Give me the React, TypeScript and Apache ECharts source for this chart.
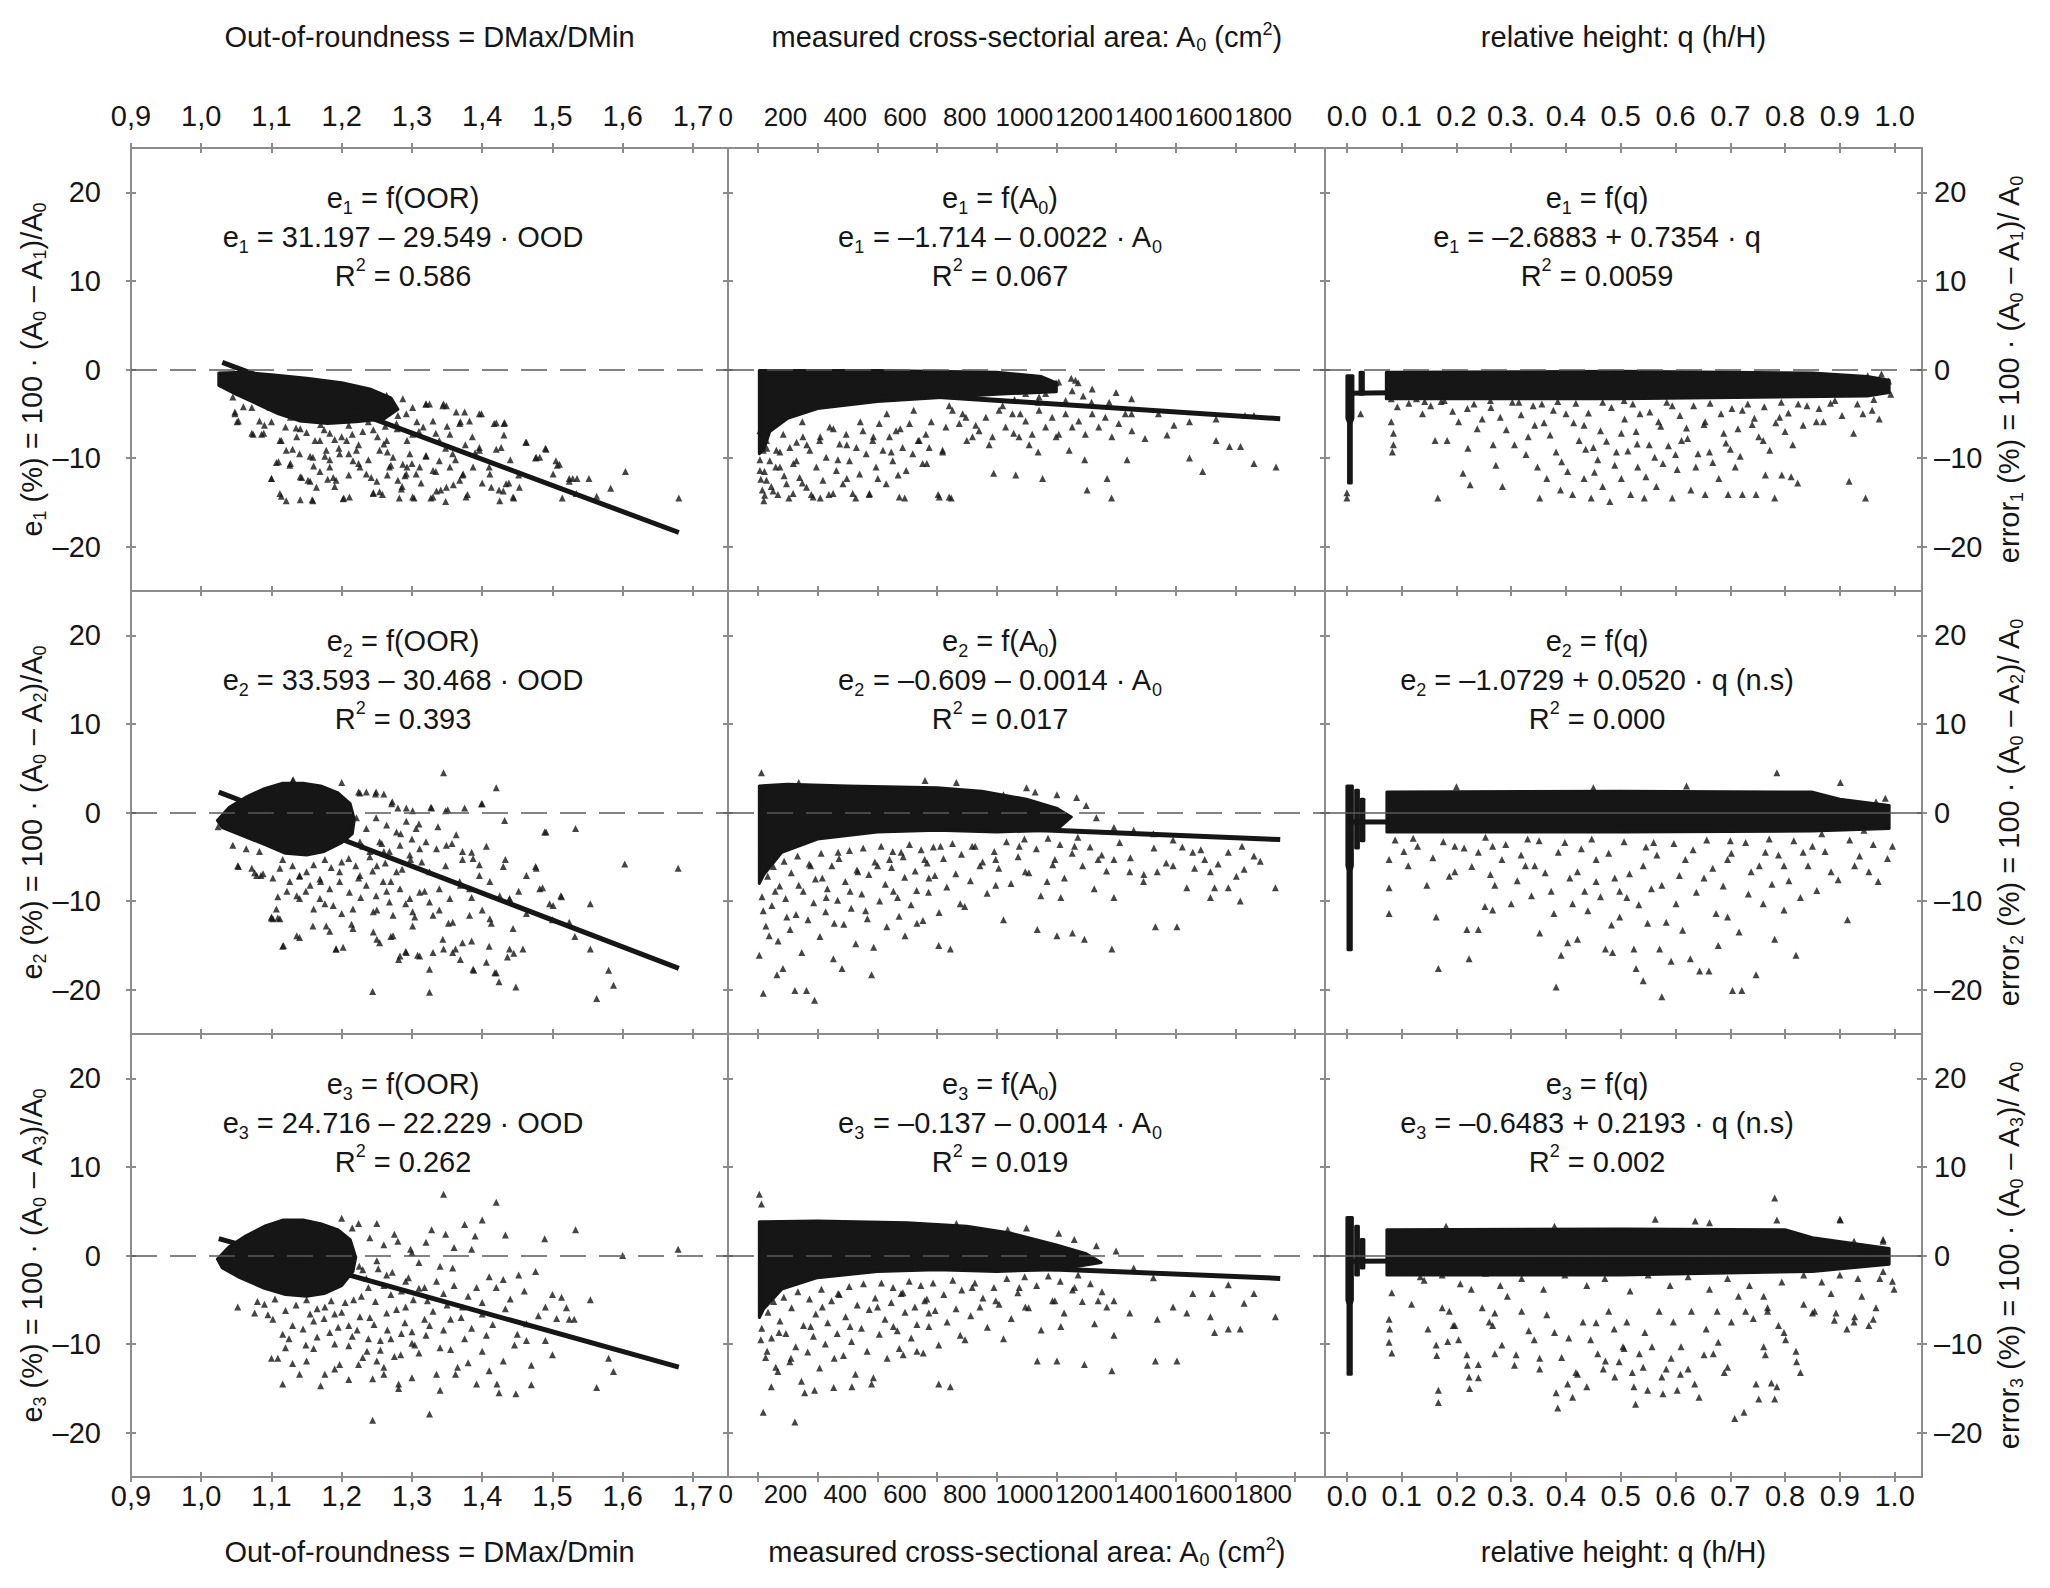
import React from "react";
import * as echarts from "echarts";

const FONT = "'Liberation Sans', Arial, Helvetica, sans-serif";
const INK = "#161616";
const AXIS = "#8c8c8c";

// ticks
const oorTicks = [0.9, 1.0, 1.1, 1.2, 1.3, 1.4, 1.5, 1.6, 1.7];
const areaTicks = [0, 200, 400, 600, 800, 1000, 1200, 1400, 1600, 1800];
const heightTicks = [0, 0.1, 0.2, 0.3, 0.4, 0.5, 0.6, 0.7, 0.8, 0.9, 1.0];
const errTicks = [-20, -10, 0, 10, 20];
const xRanges = [[0.9, 1.75], [-100, 1900], [-0.04, 1.05]];
const errRange = [-25, 25];

// titles and names ({s|} subscript, {p|} superscript)
const topTitles = [
  "Out-of-roundness = DMax/DMin",
  "measured cross-sectorial area: A{s|0} (cm{p|2})",
  "relative height: q (h/H)",
];
const bottomTitles = [
  "Out-of-roundness = DMax/Dmin",
  "measured cross-sectional area: A{s|0} (cm{p|2})",
  "relative height: q (h/H)",
];
const leftNames = [
  "e{s|1} (%) = 100 · (A{s|0} – A{s|1})/A{s|0}",
  "e{s|2} (%) = 100 · (A{s|0} – A{s|2})/A{s|0}",
  "e{s|3} (%) = 100 · (A{s|0} – A{s|3})/A{s|0}",
];
const rightNames = [
  "error{s|1} (%) = 100 · (A{s|0} – A{s|1})/ A{s|0}",
  "error{s|2} (%) = 100 · (A{s|0} – A{s|2})/ A{s|0}",
  "error{s|3} (%) = 100 · (A{s|0} – A{s|3})/ A{s|0}",
];
const equations = [
  "e{s|1} = f(OOR)\ne{s|1} = 31.197 – 29.549 · OOD\nR{p|2} = 0.586",
  "e{s|1} = f(A{s|0})\ne{s|1} = –1.714 – 0.0022 · A{s|0}\nR{p|2} = 0.067",
  "e{s|1} = f(q)\ne{s|1} = –2.6883 + 0.7354 · q\nR{p|2} = 0.0059",
  "e{s|2} = f(OOR)\ne{s|2} = 33.593 – 30.468 · OOD\nR{p|2} = 0.393",
  "e{s|2} = f(A{s|0})\ne{s|2} = –0.609 – 0.0014 · A{s|0}\nR{p|2} = 0.017",
  "e{s|2} = f(q)\ne{s|2} = –1.0729 + 0.0520 · q (n.s)\nR{p|2} = 0.000",
  "e{s|3} = f(OOR)\ne{s|3} = 24.716 – 22.229 · OOD\nR{p|2} = 0.262",
  "e{s|3} = f(A{s|0})\ne{s|3} = –0.137 – 0.0014 · A{s|0}\nR{p|2} = 0.019",
  "e{s|3} = f(q)\ne{s|3} = –0.6483 + 0.2193 · q (n.s)\nR{p|2} = 0.002",
];
const zeroDashed = [true, true, true, true, true, false, true, true, false];

// ---- e vs out-of-roundness ----
const oorE1Dense = [[1.025, -0.4], [1.06, -0.3], [1.1, -0.6], [1.15, -1.0], [1.2, -1.5], [1.24, -2.2], [1.27, -3.2], [1.28, -4.5], [1.26, -5.6], [1.22, -5.9], [1.18, -6.1], [1.14, -5.8], [1.11, -5.0], [1.08, -3.9], [1.05, -2.8], [1.025, -1.8]];
const oorE1 = [
  [1.048, -5.0], [1.051, -5.9], [1.072, -7.2], [1.089, -7.2], [1.1, -12.3], [1.11, -10.4], [1.114, -14.3], [1.127, -10.6], [1.141, -12.1], [1.141, -14.7],
  [1.155, -12.6], [1.158, -14.7], [1.169, -11.5], [1.176, -9.8], [1.19, -13.2], [1.203, -14.5], [1.21, -11.9], [1.224, -10.6], [1.245, -13.9], [1.258, -14.1],
  [1.265, -11.9], [1.282, -14.5], [1.286, -13.2], [1.293, -11.0], [1.303, -14.5], [1.313, -12.8], [1.32, -3.9], [1.327, -14.5], [1.341, -13.6], [1.345, -3.9],
  [1.348, -14.9], [1.359, -13.0], [1.369, -5.9], [1.372, -11.9], [1.379, -14.1], [1.386, -7.6], [1.396, -5.0], [1.4, -12.8], [1.41, -11.0], [1.417, -6.1],
  [1.424, -13.6], [1.431, -6.1], [1.431, -7.4], [1.438, -12.8], [1.445, -14.5], [1.452, -11.9], [1.462, -8.2], [1.476, -10.0], [1.49, -8.9], [1.507, -10.8],
  [1.514, -14.5], [1.524, -12.6], [1.535, -12.3], [1.552, -12.3], [1.563, -14.3], [1.583, -13.4], [1.604, -11.5], [1.68, -14.5],
  [1.127, -5.4], [1.141, -6.7], [1.162, -8.0], [1.183, -7.2], [1.196, -8.9], [1.21, -6.3], [1.224, -8.5], [1.238, -5.9], [1.251, -7.6], [1.265, -9.3],
  [1.279, -6.7], [1.293, -8.0], [1.307, -5.9], [1.32, -9.8], [1.334, -7.2], [1.348, -8.9], [1.362, -10.2], [1.376, -8.5], [1.114, -8.0], [1.1, -5.9],
  [1.155, -9.8], [1.183, -10.2], [1.238, -10.2], [1.3, -10.6], [1.334, -11.5], [1.148, -4.6], [1.19, -5.0], [1.224, -4.8], [1.265, -4.1],
  [1.12, -6.5], [1.13, -9.0], [1.17, -6.2], [1.2, -7.6], [1.23, -7.0], [1.26, -8.4], [1.28, -5.2], [1.31, -7.0], [1.27, -10.8], [1.21, -9.5],
  [1.16, -10.9], [1.09, -6.3], [1.06, -4.2], [1.35, -6.4], [1.39, -9.4], [1.42, -9.0], [1.44, -10.2], [1.29, -12.0], [1.25, -12.6], [1.18, -12.4],
  [1.045, -3.1], [1.048, -4.8], [1.053, -5.8], [1.072, -4.3], [1.074, -7.3], [1.086, -7.3], [1.083, -5.8], [1.098, -4.3], [1.1, -12.3], [1.112, -14.0],
  [1.121, -14.8], [1.107, -10.5], [1.126, -10.8], [1.112, -8.0], [1.121, -9.1], [1.136, -7.6], [1.14, -9.5], [1.143, -12.2], [1.152, -12.5], [1.159, -14.8],
  [1.164, -13.3], [1.159, -9.9], [1.169, -8.0], [1.178, -9.1], [1.183, -11.0], [1.188, -12.2], [1.192, -12.5], [1.202, -14.6], [1.211, -14.4], [1.197, -9.5],
  [1.207, -8.0], [1.216, -10.3], [1.221, -9.1], [1.226, -11.0], [1.235, -11.8], [1.242, -12.2], [1.245, -14.0], [1.254, -13.8], [1.254, -9.1], [1.264, -8.0],
  [1.268, -11.0], [1.273, -9.9], [1.28, -12.5], [1.285, -13.5], [1.287, -10.7], [1.292, -11.8], [1.297, -9.5], [1.301, -14.4], [1.306, -11.8], [1.311, -11.0],
  [1.32, -9.7], [1.33, -14.4], [1.335, -13.7], [1.33, -11.4], [1.339, -10.3], [1.349, -13.3], [1.354, -11.0], [1.358, -9.5], [1.368, -12.5], [1.377, -14.4],
  [1.373, -11.8], [1.387, -11.0], [1.396, -9.1], [1.399, -5.0], [1.411, -11.8], [1.413, -13.3], [1.425, -14.8], [1.43, -13.7], [1.434, -12.9], [1.444, -14.4],
  [1.453, -13.3], [1.463, -8.2], [1.477, -9.9], [1.482, -9.9], [1.491, -9.0], [1.501, -11.8], [1.51, -10.7], [1.505, -10.3], [1.524, -12.3], [1.529, -12.3],
  [1.534, -14.0], [1.264, -2.9], [1.287, -3.3], [1.301, -4.3], [1.32, -3.9], [1.325, -3.9], [1.344, -4.1], [1.349, -4.1], [1.363, -4.8], [1.375, -4.8],
  [1.382, -5.8], [1.42, -6.0], [1.432, -6.0], [1.427, -8.8], [1.396, -8.8], [1.368, -6.1], [1.354, -7.3], [1.339, -8.0], [1.33, -5.8], [1.316, -6.5],
  [1.301, -7.3], [1.292, -5.0], [1.278, -6.1], [1.135, -6.6], [1.15, -7.1], [1.175, -6.8], [1.19, -7.9], [1.215, -7.3], [1.245, -6.8], [1.262, -6.4],
];
const oorE1Fit = [[1.03, 0.8], [1.68, -18.4]];

const oorE2Dense = [[1.023, -0.9], [1.04, 0.6], [1.063, 1.7], [1.09, 2.7], [1.116, 3.3], [1.145, 3.3], [1.17, 3.0], [1.195, 2.2], [1.212, 1.0], [1.218, -0.8], [1.215, -2.4], [1.2, -3.4], [1.175, -4.4], [1.15, -4.8], [1.12, -4.6], [1.09, -3.6], [1.055, -2.5], [1.03, -1.7]];
const oorE2 = [
  [1.345, 4.5], [1.42, 2.8], [1.4, 1.0], [1.375, 0.5], [1.348, 0.2], [1.328, 0.5], [1.2, 3.4], [1.13, 3.6], [1.224, 2.3], [1.248, 2.1],
  [1.272, 1.2], [1.301, 0.2], [1.489, -2.2], [1.533, -1.8], [1.603, -5.8], [1.679, -6.3], [1.43, -6.1], [1.476, -6.1], [1.486, -8.5], [1.452, -8.9],
  [1.439, -9.8], [1.513, -9.5], [1.554, -10.3], [1.496, -10.3], [1.463, -11.4], [1.5, -12.1], [1.524, -12.4], [1.532, -14.0], [1.554, -15.4], [1.58, -17.8],
  [1.587, -19.5], [1.563, -21.0], [1.448, -19.7], [1.424, -19.1], [1.418, -18.1], [1.445, -15.9], [1.436, -16.3], [1.388, -17.8], [1.41, -15.1], [1.385, -14.5],
  [1.369, -16.6], [1.362, -15.4], [1.345, -15.4], [1.325, -17.7], [1.325, -20.3], [1.308, -16.1], [1.281, -16.6], [1.291, -15.7], [1.27, -14.0], [1.25, -14.3],
  [1.244, -20.2], [1.214, -12.6], [1.192, -15.4], [1.183, -13.4], [1.16, -10.9], [1.14, -14.1], [1.116, -15.1], [1.109, -11.9], [1.1, -11.9], [1.052, -6.0],
  [1.076, -6.8], [1.085, -7.1], [1.109, -9.5], [1.122, -8.9], [1.149, -8.9], [1.176, -10.3], [1.2, -11.4], [1.227, -9.6], [1.25, -11.0], [1.264, -8.9],
  [1.291, -10.3], [1.304, -11.8], [1.318, -8.9], [1.339, -11.0], [1.352, -12.5], [1.369, -8.2], [1.385, -9.6], [1.4, -11.0], [1.413, -12.5], [1.372, -5.3],
  [1.385, -4.5], [1.348, -6.0], [1.325, -6.7], [1.298, -5.3], [1.278, -6.7], [1.25, -6.0], [1.224, -7.4], [1.197, -6.7], [1.176, -5.3], [1.15, -6.7],
  [1.13, -6.0], [1.116, -5.3], [1.102, -7.4], [1.23, -3.8], [1.257, -3.5], [1.284, -2.4], [1.31, -1.3], [1.337, -1.6], [1.357, -3.5], [1.406, -3.8],
  [1.433, -5.3], [1.21, -5.2], [1.24, -5.0], [1.17, -7.8], [1.26, -4.4], [1.14, -7.2], [1.3, -3.0], [1.27, -7.8],
  [1.131, 3.7], [1.226, 2.2], [1.235, 2.3], [1.249, 2.3], [1.26, 2.1], [1.271, 1.0], [1.28, 0.5], [1.292, 0.5], [1.327, 0.6], [1.351, 0.3],
  [1.399, 1.0], [1.432, -0.9], [1.491, -2.2], [1.221, -0.6], [1.235, -1.8], [1.249, -0.6], [1.264, -1.4], [1.278, -2.2], [1.292, -1.0], [1.306, -1.8],
  [1.226, -3.3], [1.24, -4.4], [1.254, -3.3], [1.268, -4.4], [1.283, -3.7], [1.297, -4.8], [1.311, -4.1], [1.32, -3.3], [1.335, -4.1], [1.349, -3.7],
  [1.363, -2.5], [1.372, -4.4], [1.387, -5.2], [1.396, -5.9], [1.411, -7.8], [1.425, -9.4], [1.439, -9.7], [1.463, -7.1], [1.477, -6.3], [1.482, -8.6],
  [1.501, -10.5], [1.512, -9.4], [1.112, -6.3], [1.126, -7.8], [1.14, -7.1], [1.155, -8.2], [1.169, -7.5], [1.183, -8.6], [1.197, -7.8], [1.211, -9.0],
  [1.226, -7.1], [1.235, -8.2], [1.249, -9.4], [1.259, -7.8], [1.268, -10.1], [1.283, -8.6], [1.297, -9.7], [1.311, -9.0], [1.325, -10.1], [1.339, -8.6],
  [1.354, -9.7], [1.368, -7.8], [1.382, -8.6], [1.396, -7.1], [1.107, -10.9], [1.112, -12.0], [1.117, -15.0], [1.136, -13.9], [1.159, -12.8], [1.178, -12.8],
  [1.192, -15.4], [1.202, -15.2], [1.216, -13.1], [1.245, -13.5], [1.254, -14.7], [1.273, -13.9], [1.283, -16.2], [1.292, -15.8], [1.301, -12.8], [1.311, -16.2],
  [1.33, -15.8], [1.344, -14.3], [1.358, -15.8], [1.372, -14.7], [1.387, -17.7], [1.406, -16.9], [1.42, -18.1], [1.439, -15.4], [1.458, -15.4], [1.444, -13.1],
  [1.411, -12.0], [1.382, -11.6], [1.358, -12.4], [1.33, -11.6], [1.301, -11.2], [1.273, -11.6], [1.245, -11.2], [1.216, -10.9], [1.188, -10.5], [1.169, -9.7],
  [1.14, -9.7], [1.136, -9.4], [1.102, -12.0], [1.1, -11.8], [1.079, -7.1], [1.088, -6.9], [1.072, -6.3], [1.053, -6.1], [1.024, -1.6], [1.045, -3.7],
  [1.064, -4.1], [1.083, -4.4], [1.2, -5.6], [1.185, -6.2], [1.16, -5.9], [1.22, -6.0], [1.244, -6.6], [1.262, -5.7], [1.286, -6.4], [1.314, -5.6],
];
const oorE2Fit = [[1.025, 2.3], [1.68, -17.6]];

const oorE3Dense = [[1.023, -0.4], [1.04, 1.0], [1.063, 2.2], [1.09, 3.3], [1.116, 4.0], [1.145, 4.0], [1.17, 3.6], [1.195, 2.9], [1.212, 1.8], [1.22, -0.2], [1.216, -1.8], [1.2, -3.4], [1.175, -4.3], [1.15, -4.6], [1.12, -4.4], [1.09, -3.7], [1.055, -2.5], [1.03, -1.4]];
const oorE3 = [
  [1.345, 6.9], [1.42, 6.0], [1.4, 4.0], [1.375, 3.5], [1.328, 2.9], [1.348, 2.4], [1.275, 2.4], [1.25, 3.6], [1.224, 3.6], [1.2, 4.2],
  [1.433, 2.3], [1.533, 2.9], [1.489, 1.9], [1.6, 0.0], [1.679, 0.7], [1.298, 0.7], [1.385, 0.7], [1.476, -1.8], [1.452, -2.2], [1.43, -2.7],
  [1.554, -5.0], [1.513, -4.7], [1.49, -5.8], [1.433, -6.0], [1.524, -7.2], [1.506, -7.1], [1.531, -7.2], [1.463, -7.7], [1.446, -10.1], [1.463, -9.6],
  [1.406, -9.0], [1.375, -9.4], [1.355, -7.2], [1.325, -7.9], [1.304, -10.1], [1.284, -11.2], [1.27, -9.4], [1.25, -11.9], [1.244, -13.9], [1.244, -18.6],
  [1.325, -17.9], [1.362, -13.4], [1.335, -13.4], [1.365, -12.6], [1.392, -14.5], [1.421, -14.5], [1.424, -15.5], [1.448, -15.6], [1.563, -14.9], [1.58, -11.6],
  [1.587, -13.1], [1.281, -14.5], [1.281, -15.0], [1.26, -13.4], [1.224, -12.3], [1.197, -12.3], [1.176, -13.4], [1.16, -10.5], [1.149, -10.1], [1.14, -13.4],
  [1.116, -14.5], [1.109, -11.6], [1.1, -11.6], [1.116, -8.9], [1.052, -5.8], [1.076, -6.5], [1.102, -7.2], [1.13, -7.9], [1.183, -8.7], [1.21, -7.9],
  [1.238, -9.4], [1.264, -6.5], [1.291, -5.8], [1.318, -7.2], [1.345, -4.3], [1.372, -5.8], [1.392, -3.6], [1.318, -3.6], [1.291, -2.9], [1.264, -2.2],
  [1.238, -3.6], [1.217, -5.0], [1.176, -5.8], [1.15, -5.0], [1.358, -1.4], [1.42, -3.6], [1.23, -1.6], [1.25, -0.6], [1.27, -4.4], [1.19, -6.6],
  [1.16, -7.4], [1.3, -8.6], [1.34, -10.4], [1.24, -7.0], [1.21, -10.2], [1.4, -6.6],
  [1.215, 3.1], [1.24, 2.0], [1.26, 1.2], [1.28, 1.6], [1.3, 0.3], [1.32, 1.5], [1.36, 0.9], [1.39, 2.2], [1.31, -0.8], [1.34, -1.2],
  [1.225, -1.2], [1.235, -2.6], [1.252, -1.5], [1.26, -3.4], [1.272, -1.9], [1.285, -4.0], [1.295, -2.5], [1.31, -3.7], [1.322, -5.1], [1.335, -2.9],
  [1.35, -5.6], [1.36, -3.4], [1.38, -4.6], [1.4, -5.3], [1.41, -2.4], [1.44, -4.9], [1.46, -4.0], [1.48, -6.8], [1.5, -4.4], [1.52, -5.9],
  [1.08, -5.2], [1.095, -6.7], [1.105, -4.9], [1.12, -6.2], [1.135, -5.6], [1.145, -8.3], [1.155, -6.6], [1.165, -9.2], [1.175, -7.1], [1.19, -10.0],
  [1.2, -6.4], [1.215, -9.1], [1.226, -6.9], [1.236, -10.8], [1.246, -7.8], [1.255, -9.6], [1.265, -8.4], [1.275, -11.4], [1.29, -7.6], [1.3, -9.9],
  [1.31, -11.0], [1.32, -9.0], [1.33, -6.3], [1.345, -8.4], [1.355, -10.6], [1.37, -7.0], [1.385, -8.2], [1.4, -10.8], [1.415, -7.8], [1.43, -11.9],
  [1.45, -8.9], [1.47, -12.4], [1.49, -9.6], [1.12, -10.4], [1.13, -12.2], [1.15, -11.9], [1.17, -14.7], [1.19, -12.8], [1.21, -14.0], [1.23, -11.5],
  [1.26, -12.6], [1.3, -13.8], [1.34, -15.2], [1.38, -12.1], [1.41, -13.0], [1.5, -11.2], [1.47, -14.6], [1.205, -5.3], [1.228, -4.6], [1.248, -5.2],
  [1.185, -5.1], [1.165, -6.0], [1.278, -6.1], [1.302, -5.0], [1.09, -5.5], [1.125, -9.4], [1.255, -10.7], [1.285, -8.8], [1.222, -8.4], [1.195, -8.1],
];
const oorE3Fit = [[1.025, 1.9], [1.68, -12.6]];

// ---- e vs measured cross-sectional area ----
const areaE1Dense = [[5, -0.1], [400, -0.1], [800, -0.3], [950, -0.8], [1000, -1.5], [1000, -2.5], [800, -2.8], [600, -3.2], [400, -3.6], [200, -4.4], [100, -5.5], [40, -7.0], [20, -9.0], [5, -9.5]];
const areaE1 = [
  [1736, -11.0], [1662, -10.6], [1617, -8.7], [1580, -8.7], [1535, -8.0], [1490, -11.5], [1446, -10.0], [1535, -5.6], [1632, -5.2], [1662, -5.2],
  [1446, -5.9], [1342, -5.0], [1394, -6.3], [1371, -7.4], [1297, -7.8], [1252, -5.0], [1237, -10.2], [1185, -14.5], [1170, -12.3], [1103, -13.6],
  [1095, -10.2], [1043, -9.1], [999, -7.6], [954, -12.3], [939, -9.3], [909, -8.5], [864, -11.9], [857, -7.2], [790, -11.7], [775, -8.5],
  [730, -6.3], [700, -8.0], [648, -14.5], [604, -14.1], [619, -9.3], [566, -10.6], [537, -8.0], [492, -14.5], [470, -11.9], [447, -9.3],
  [402, -12.3], [373, -14.1], [328, -14.5], [298, -12.3], [268, -10.2], [238, -14.1], [209, -14.5], [179, -14.1], [149, -12.8], [104, -14.5],
  [67, -14.1], [45, -13.2], [15, -13.6], [22, -11.5], [7, -10.2], [30, -8.9], [74, -9.3], [119, -10.6], [164, -8.5], [209, -7.6],
  [253, -6.7], [298, -8.5], [343, -5.9], [387, -7.6], [432, -5.0], [477, -6.7], [522, -4.6], [581, -5.9], [641, -4.1], [686, -5.0],
  [820, -4.1], [879, -5.0], [939, -3.7], [999, -1.5], [1073, -1.5], [1118, -3.7], [1177, -3.7], [1252, -3.3], [149, -5.9], [104, -4.1],
  [45, -5.0], [179, -3.7], [1120, -2.2], [1200, -2.6], [1050, -1.0], [10, -12.4], [20, -14.8], [88, -12.0], [130, -8.2], [60, -11.0],
  [7, -6.9], [29, -8.0], [18, -9.1], [40, -10.3], [7, -11.4], [29, -12.5], [51, -13.7], [23, -14.2], [62, -9.1], [74, -11.0],
  [85, -7.3], [96, -12.9], [107, -8.8], [118, -14.0], [129, -10.3], [140, -12.2], [151, -7.6], [163, -13.3], [174, -9.1], [185, -14.4],
  [196, -11.0], [207, -8.0], [218, -12.5], [229, -9.9], [241, -6.5], [252, -14.0], [263, -11.4], [274, -8.4], [285, -12.9], [296, -7.3],
  [307, -10.3], [318, -14.0], [330, -8.8], [341, -11.8], [352, -6.9], [363, -9.5], [374, -14.0], [385, -8.0], [396, -11.0], [407, -6.1],
  [419, -9.1], [430, -12.9], [441, -7.6], [452, -10.3], [463, -6.9], [474, -14.4], [485, -8.8], [497, -11.4], [508, -6.1], [519, -9.5],
  [541, -8.0], [552, -10.6], [563, -7.3], [574, -8.8], [608, -14.4], [619, -9.1], [630, -6.5], [641, -14.4], [652, -4.6], [675, -6.1],
  [697, -5.4], [719, -7.6], [741, -6.9], [764, -5.4], [786, -7.6], [808, -4.6], [830, -6.5], [853, -5.0], [875, -7.6], [897, -5.8],
  [919, -7.3], [942, -4.6], [964, -6.5], [986, -5.4], [1008, -7.3], [1031, -5.0], [1053, -6.5], [1075, -5.8], [1097, -7.3], [1120, -5.0],
  [1142, -6.5], [1164, -5.4], [1186, -7.6], [1209, -6.1], [1231, -5.0], [1253, -6.9], [741, -1.6], [786, -2.0], [830, -1.6], [875, -1.2],
  [919, -0.9], [964, -2.7], [1008, -1.4], [1053, -2.4], [1064, -1.2], [1031, -3.5], [942, -3.1], [897, -2.7], [860, -3.4], [1090, -3.0],
];
const areaE1Fit = [[100, -1.93], [1750, -5.56]];

const areaE2Dense = [[5, 3.0], [100, 3.2], [300, 3.0], [600, 2.8], [750, 2.4], [900, 1.5], [1000, 0.5], [1050, -0.5], [1000, -2.0], [800, -2.2], [600, -2.0], [400, -2.2], [200, -3.0], [80, -4.5], [20, -7.0], [5, -8.0]];
const areaE2 = [
  [12, 4.5], [137, 3.4], [665, 3.4], [744, 2.0], [823, 2.0], [929, 2.3], [1002, 2.0], [1068, 1.7], [1008, 0.2], [1134, -0.6],
  [1193, -1.7], [1259, -2.0], [1325, -2.4], [1391, -3.1], [1457, -4.5], [1484, -4.2], [1576, -4.5], [1622, -3.8], [1662, -4.9], [1629, -6.4],
  [1734, -8.5], [1616, -10.0], [1530, -8.5], [1516, -6.7], [1437, -8.5], [1404, -12.9], [1332, -12.9], [1338, -6.7], [1292, -7.8], [1246, -6.7],
  [1193, -9.6], [1186, -15.4], [1140, -5.3], [1094, -14.3], [1054, -13.6], [1002, -13.9], [1015, -9.6], [969, -7.8], [936, -13.2], [896, -6.7],
  [823, -12.1], [797, -8.2], [744, -6.0], [678, -10.3], [645, -15.4], [606, -15.0], [573, -7.4], [533, -12.5], [493, -13.9], [454, -8.9],
  [441, -5.3], [381, -18.3], [361, -11.1], [335, -6.7], [282, -17.6], [256, -12.5], [229, -9.6], [190, -21.2], [163, -20.1], [124, -20.1],
  [84, -17.6], [64, -18.3], [38, -13.9], [18, -20.4], [5, -16.1], [18, -11.1], [58, -8.9], [97, -11.8], [137, -8.2], [177, -6.0],
  [216, -7.4], [269, -4.5], [309, -8.9], [401, -6.0], [480, -4.5], [559, -5.3], [612, -3.8], [718, -3.8], [797, -5.3], [876, -3.8],
  [995, -5.3], [1061, -3.8], [1193, -5.3], [1391, -6.0], [1497, -5.3], [1576, -8.5], [1516, -9.6], [900, 2.8], [560, 3.6], [1100, 0.8],
  [14, -9.5], [27, -12.8], [33, -7.2], [47, -10.5], [52, -6.1], [68, -14.5], [73, -8.3], [88, -5.5], [93, -9.7], [108, -13.2],
  [112, -6.8], [128, -11.5], [133, -4.9], [147, -15.8], [152, -8.9], [168, -12.1], [172, -5.8], [187, -10.2], [193, -7.5], [208, -14.0],
  [212, -4.6], [227, -11.2], [233, -8.6], [248, -6.0], [253, -16.5], [267, -9.9], [272, -5.2], [288, -12.6], [293, -7.8], [307, -4.3],
  [313, -10.8], [328, -14.8], [332, -6.5], [348, -9.2], [353, -4.0], [367, -12.0], [372, -7.0], [388, -15.2], [392, -5.6], [408, -10.0],
  [413, -3.8], [427, -8.1], [432, -12.9], [448, -6.2], [452, -4.4], [468, -9.6], [473, -11.7], [487, -5.0], [492, -7.3], [508, -3.6],
  [513, -10.4], [527, -6.6], [532, -8.8], [547, -4.2], [553, -12.2], [567, -5.7], [572, -9.0], [588, -3.9], [593, -7.1], [607, -11.3],
  [622, -5.2], [633, -8.4], [652, -3.5], [663, -6.9], [682, -4.7], [693, -10.6], [712, -7.7], [728, -3.8], [753, -5.6], [768, -9.1],
  [792, -4.4], [807, -6.3], [833, -3.3], [848, -8.0], [872, -5.0], [893, -3.0], [908, -6.8], [933, -4.1], [948, -9.4], [972, -2.9],
  [988, -5.9], [1012, -3.6], [1027, -7.4], [1053, -4.6], [1072, -2.8], [1088, -6.0], [1113, -3.9], [1127, -8.6], [1152, -4.8], [1168, -6.6],
  [1212, -3.4], [1248, -5.1], [1293, -7.0], [1327, -4.0], [1368, -5.7], [1422, -3.9], [1463, -6.3], [1542, -5.8], [1603, -7.2], [1683, -5.5],
];
const areaE2Fit = [[100, -0.75], [1750, -3.06]];

const areaE3Dense = [[5, 3.8], [200, 3.9], [500, 3.7], [700, 3.3], [850, 2.5], [1000, 1.2], [1100, 0.2], [1150, -0.8], [1000, -1.6], [800, -1.8], [600, -1.6], [400, -1.8], [200, -2.5], [80, -3.8], [20, -6.0], [5, -7.0]];
const areaE3 = [
  [5, 6.9], [12, 5.8], [665, 3.6], [837, 2.9], [1008, 2.5], [1134, 1.1], [1259, -1.4], [1325, -2.5], [1457, -4.3], [1523, -4.3],
  [1576, -3.3], [1629, -5.4], [1662, -4.3], [1734, -6.9], [1616, -8.3], [1530, -8.7], [1516, -6.9], [1437, -6.5], [1404, -11.9], [1332, -11.9],
  [1338, -7.2], [1246, -6.5], [1193, -9.0], [1186, -13.0], [1140, -5.1], [1094, -12.3], [1002, -11.9], [936, -11.9], [1015, -8.0], [896, -5.8],
  [823, -9.4], [744, -5.8], [678, -9.0], [645, -14.8], [606, -14.5], [573, -6.5], [533, -10.8], [487, -11.2], [454, -8.0], [381, -14.5],
  [315, -14.8], [256, -11.6], [190, -15.2], [157, -15.5], [124, -18.8], [45, -14.8], [18, -17.7], [31, -10.8], [71, -8.7], [111, -11.6],
  [177, -8.0], [216, -5.8], [269, -4.3], [309, -8.0], [401, -5.8], [480, -4.3], [559, -5.1], [718, -3.6], [797, -5.1], [876, -3.6],
  [995, -5.1], [1061, -3.6], [1193, -5.1], [1391, -5.8], [1576, -8.3], [1200, 0.5], [1060, 1.8], [900, 3.1], [10, -9.5], [60, -12.6],
  [13, -8.2], [26, -11.5], [34, -6.4], [46, -9.3], [53, -5.2], [67, -13.1], [74, -7.4], [87, -4.7], [94, -8.8], [107, -12.0],
  [113, -5.9], [127, -10.3], [134, -4.1], [146, -14.2], [153, -7.9], [167, -10.9], [173, -4.9], [186, -9.1], [194, -6.6], [207, -12.7],
  [213, -3.8], [226, -10.0], [234, -7.6], [247, -5.1], [254, -14.9], [266, -8.8], [273, -4.4], [287, -11.3], [294, -6.9], [306, -3.5],
  [314, -9.7], [327, -13.4], [333, -5.6], [347, -8.2], [354, -3.2], [366, -10.8], [373, -6.1], [387, -13.8], [393, -4.8], [407, -8.9],
  [414, -3.1], [426, -7.2], [433, -11.6], [447, -5.3], [453, -3.6], [467, -8.5], [474, -10.5], [486, -4.2], [493, -6.4], [507, -2.9],
  [514, -9.3], [526, -5.8], [533, -7.8], [546, -3.4], [554, -11.0], [566, -4.9], [573, -8.0], [587, -3.1], [594, -6.2], [606, -10.1],
  [623, -4.4], [634, -7.5], [653, -2.8], [664, -6.0], [683, -3.9], [694, -9.5], [713, -6.8], [727, -3.1], [754, -4.8], [769, -8.1],
  [791, -3.6], [808, -5.5], [834, -2.6], [849, -7.1], [871, -4.2], [894, -2.4], [907, -5.9], [934, -3.4], [949, -8.4], [973, -2.3],
  [987, -5.1], [1013, -2.9], [1026, -6.5], [1054, -3.9], [1073, -2.2], [1087, -5.2], [1114, -3.2], [1128, -7.7], [1153, -4.1], [1169, -5.8],
];
const areaE3Fit = [[100, -0.28], [1750, -2.59]];

// ---- e vs relative height ----
const heightE1Dense = [
  [[0.072, -0.3], [0.5, -0.2], [0.85, -0.4], [0.95, -0.8], [0.99, -1.2], [0.99, -2.6], [0.95, -3.0], [0.5, -3.3], [0.072, -3.3]],
  [[0, -0.7], [0.011, -0.7], [0.011, -5.5], [0.008, -6.0], [0.008, -12.8], [0.003, -12.8], [0.003, -6.0], [0, -5.5]],
  [[0.024, -0.3], [0.03, -0.3], [0.03, -2.8], [0.024, -2.8]],
];
const heightE1 = [
  [0.0, -13.9], [0.0, -14.5], [0.025, -5.0], [0.081, -3.3], [0.081, -5.9], [0.085, -7.2], [0.085, -8.5], [0.083, -9.3], [0.161, -8.0], [0.183, -8.0],
  [0.166, -14.5], [0.212, -11.7], [0.225, -13.0], [0.221, -8.9], [0.238, -6.7], [0.204, -5.9], [0.153, -4.1], [0.127, -3.3], [0.178, -3.5], [0.267, -8.5],
  [0.272, -10.8], [0.284, -13.2], [0.306, -8.5], [0.331, -7.6], [0.348, -11.0], [0.352, -14.5], [0.365, -12.3], [0.382, -9.3], [0.39, -13.6], [0.403, -11.5],
  [0.412, -14.1], [0.424, -8.0], [0.433, -12.3], [0.446, -14.5], [0.458, -10.2], [0.467, -13.2], [0.48, -14.9], [0.492, -9.3], [0.501, -12.3], [0.518, -14.1],
  [0.531, -11.0], [0.543, -14.5], [0.552, -8.5], [0.565, -13.2], [0.577, -10.6], [0.594, -14.5], [0.611, -8.0], [0.628, -13.6], [0.637, -11.0], [0.654, -14.1],
  [0.662, -9.3], [0.679, -12.3], [0.696, -14.1], [0.709, -11.0], [0.722, -14.1], [0.747, -14.1], [0.76, -8.0], [0.764, -11.9], [0.781, -14.5], [0.794, -11.9],
  [0.811, -12.1], [0.823, -12.8], [0.857, -5.9], [0.87, -5.9], [0.917, -12.6], [0.925, -7.2], [0.947, -14.5], [0.942, -5.0], [0.959, -4.6], [0.993, -2.8],
  [0.989, -1.3], [0.951, -0.7], [0.976, -0.5], [0.34, -4.1], [0.4, -5.0], [0.467, -3.7], [0.535, -5.0], [0.594, -4.1], [0.654, -5.9], [0.722, -4.6],
  [0.79, -5.4], [0.433, -6.3], [0.501, -7.2], [0.569, -5.9], [0.688, -7.2], [0.28, -5.4], [0.314, -3.7], [0.84, -4.1], [0.891, -3.5], [0.62, -6.6],
  [0.74, -6.2], [0.45, -8.8], [0.53, -8.4], [0.6, -9.6], [0.7, -9.0], [0.36, -6.0], [0.22, -4.4], [0.8, -7.0],
  [0.092, -4.2], [0.113, -3.8], [0.138, -5.0], [0.172, -3.6], [0.193, -4.7], [0.232, -3.9], [0.247, -5.6], [0.263, -4.3], [0.291, -6.8], [0.302, -3.7],
  [0.318, -5.1], [0.327, -9.6], [0.343, -6.3], [0.356, -3.9], [0.371, -7.4], [0.377, -4.6], [0.392, -10.4], [0.414, -6.0], [0.418, -3.8], [0.436, -9.0],
  [0.441, -4.9], [0.452, -11.6], [0.463, -6.9], [0.474, -8.1], [0.483, -4.3], [0.489, -10.8], [0.507, -5.6], [0.513, -9.2], [0.522, -3.9], [0.528, -7.0],
  [0.546, -12.1], [0.553, -4.8], [0.562, -9.9], [0.573, -6.4], [0.584, -3.7], [0.587, -8.6], [0.603, -11.3], [0.608, -5.2], [0.622, -7.8], [0.633, -4.1],
  [0.641, -9.5], [0.652, -6.2], [0.663, -3.8], [0.668, -10.5], [0.683, -5.0], [0.692, -8.3], [0.703, -4.4], [0.714, -6.7], [0.718, -9.8], [0.732, -3.9],
  [0.744, -5.5], [0.752, -7.6], [0.762, -4.2], [0.772, -9.1], [0.783, -6.0], [0.793, -3.7], [0.806, -4.9], [0.814, -8.5], [0.824, -3.9], [0.833, -6.3],
  [0.862, -4.4], [0.883, -3.8], [0.904, -5.2], [0.932, -3.9], [0.962, -3.4], [0.972, -5.6], [0.142, -3.6], [0.262, -3.5], [0.385, -3.6], [0.506, -3.5],
];
const heightE1Fit = [[0.0, -2.69], [0.985, -1.96]];

const heightE2Dense = [
  [[0.073, 2.3], [0.5, 2.4], [0.85, 2.3], [0.9, 1.5], [0.99, 0.8], [0.99, -1.8], [0.85, -2.1], [0.5, -2.2], [0.073, -2.2]],
  [[0, 3.0], [0.01, 3.0], [0.01, -6.0], [0.008, -6.5], [0.008, -15.5], [0.002, -15.5], [0.002, -6.5], [0, -6.0]],
  [[0.016, 2.5], [0.021, 2.5], [0.021, -4.0], [0.016, -4.0]],
  [[0.026, 1.5], [0.031, 1.5], [0.031, -3.2], [0.026, -3.2]],
];
const heightE2 = [
  [0.077, -5.3], [0.077, -8.5], [0.077, -11.4], [0.146, -8.2], [0.163, -11.8], [0.167, -17.6], [0.197, -6.7], [0.197, -3.8], [0.219, -13.2], [0.223, -16.5],
  [0.24, -13.2], [0.266, -3.8], [0.27, -8.2], [0.266, -11.0], [0.3, -10.3], [0.326, -6.0], [0.352, -13.6], [0.378, -11.4], [0.382, -19.7], [0.391, -16.1],
  [0.403, -14.7], [0.421, -14.3], [0.434, -8.9], [0.455, -7.8], [0.472, -15.4], [0.485, -15.8], [0.498, -11.8], [0.511, -9.6], [0.524, -15.4], [0.528, -17.6],
  [0.541, -19.0], [0.549, -12.5], [0.571, -15.4], [0.575, -20.8], [0.592, -16.8], [0.601, -10.3], [0.627, -16.5], [0.644, -17.9], [0.661, -17.9], [0.674, -11.4],
  [0.678, -15.0], [0.695, -11.8], [0.704, -20.1], [0.721, -20.1], [0.747, -18.3], [0.76, -10.3], [0.781, -14.3], [0.798, -11.0], [0.82, -16.1], [0.85, -3.8],
  [0.867, -2.4], [0.884, -6.7], [0.914, -12.1], [0.927, -6.0], [0.953, -6.7], [0.97, -7.8], [0.996, -3.8], [0.966, 1.2], [0.983, 1.6], [0.901, 3.4],
  [0.785, 4.5], [0.888, 1.2], [0.944, -2.0], [0.283, -5.3], [0.343, -6.0], [0.386, -4.5], [0.421, -6.7], [0.455, -5.3], [0.489, -7.4], [0.541, -6.0],
  [0.575, -8.2], [0.618, -5.3], [0.652, -7.4], [0.695, -5.3], [0.738, -6.7], [0.764, -4.5], [0.798, -6.0], [0.833, -4.5], [0.129, -3.8], [0.112, -6.0],
  [0.24, -4.5], [0.498, -8.9], [0.412, -10.3], [0.2, 2.9], [0.45, 2.8], [0.62, 3.0], [0.7, -3.2], [0.56, -3.4], [0.33, -3.0],
  [0.088, -3.1], [0.104, -4.4], [0.121, -2.9], [0.157, -5.1], [0.176, -3.3], [0.187, -7.2], [0.214, -4.0], [0.228, -6.1], [0.253, -2.8], [0.262, -7.0],
  [0.29, -3.6], [0.311, -7.7], [0.318, -4.8], [0.337, -9.4], [0.351, -3.2], [0.362, -6.8], [0.373, -8.9], [0.398, -3.4], [0.407, -7.4], [0.428, -4.1],
  [0.44, -11.1], [0.447, -3.0], [0.463, -9.5], [0.478, -4.6], [0.483, -12.7], [0.506, -3.3], [0.516, -6.9], [0.533, -10.4], [0.546, -3.9], [0.556, -8.6],
  [0.566, -4.8], [0.583, -12.4], [0.597, -3.5], [0.607, -7.1], [0.613, -13.3], [0.632, -4.2], [0.638, -9.0], [0.657, -3.1], [0.668, -6.3], [0.687, -8.3],
  [0.702, -4.6], [0.716, -13.5], [0.728, -3.4], [0.733, -9.2], [0.753, -6.0], [0.771, -3.0], [0.776, -8.1], [0.788, -4.8], [0.807, -7.7], [0.816, -3.2],
  [0.828, -9.6], [0.842, -6.0], [0.858, -8.8], [0.873, -4.4], [0.897, -7.6], [0.918, -3.1], [0.936, -4.9], [0.961, -3.6], [0.987, -5.2], [0.252, -10.6],
];
const heightE2Fit = [[0.0, -1.07], [0.99, -1.02]];

const heightE3Dense = [
  [[0.073, 2.9], [0.5, 3.0], [0.8, 2.9], [0.85, 2.0], [0.99, 0.8], [0.99, -1.0], [0.85, -1.8], [0.5, -2.2], [0.073, -2.2]],
  [[0, 4.3], [0.01, 4.3], [0.01, -5.0], [0.008, -5.5], [0.008, -13.4], [0.002, -13.4], [0.002, -5.5], [0, -5.0]],
  [[0.016, 3.3], [0.021, 3.3], [0.021, -2.2], [0.016, -2.2]],
  [[0.026, 1.8], [0.031, 1.8], [0.031, -1.4], [0.026, -1.4]],
];
const heightE3 = [
  [0.781, 6.5], [0.901, 4.0], [0.785, 4.0], [0.077, -7.2], [0.077, -9.8], [0.163, -10.1], [0.167, -15.2], [0.197, -7.9], [0.219, -11.2], [0.223, -13.7],
  [0.24, -12.3], [0.266, -7.9], [0.27, -6.5], [0.309, -11.2], [0.352, -11.6], [0.382, -15.5], [0.403, -14.5], [0.421, -13.4], [0.455, -7.6], [0.472, -11.9],
  [0.489, -13.7], [0.506, -10.5], [0.524, -14.8], [0.541, -12.6], [0.549, -15.2], [0.575, -13.7], [0.592, -11.6], [0.609, -13.4], [0.635, -14.5], [0.652, -11.2],
  [0.678, -9.8], [0.695, -12.6], [0.708, -18.4], [0.725, -17.7], [0.747, -14.5], [0.764, -11.2], [0.785, -14.8], [0.82, -10.8], [0.798, -8.7], [0.85, -6.5],
  [0.884, -4.3], [0.927, -6.9], [0.961, -7.2], [0.996, -2.9], [0.893, -6.5], [0.979, 1.8], [0.953, 0.7],
  [0.082, -4.2], [0.078, -8.3], [0.082, -11.0], [0.118, -5.5], [0.134, -2.4], [0.148, -8.3], [0.164, -11.3], [0.167, -16.6], [0.174, -5.9], [0.187, -6.3],
  [0.184, -9.7], [0.194, -7.9], [0.204, -9.5], [0.22, -12.4], [0.224, -15.0], [0.227, -3.8], [0.24, -13.8], [0.247, -5.9], [0.26, -7.5], [0.27, -11.1],
  [0.283, -10.1], [0.293, -4.6], [0.306, -12.4], [0.319, -6.3], [0.332, -8.5], [0.342, -9.5], [0.352, -12.8], [0.365, -6.7], [0.379, -8.7], [0.385, -17.2],
  [0.392, -11.5], [0.405, -9.3], [0.412, -16.0], [0.418, -13.2], [0.431, -7.5], [0.438, -14.8], [0.445, -9.5], [0.458, -11.1], [0.468, -12.8], [0.478, -6.3],
  [0.488, -8.3], [0.497, -12.0], [0.504, -10.3], [0.511, -7.5], [0.521, -13.2], [0.527, -16.8], [0.534, -11.1], [0.544, -8.7], [0.557, -10.3], [0.57, -6.3],
  [0.577, -15.6], [0.583, -12.8], [0.596, -7.5], [0.603, -15.2], [0.61, -10.3], [0.623, -12.8], [0.629, -6.3], [0.643, -16.0], [0.656, -8.3], [0.669, -11.1],
  [0.676, -6.3], [0.689, -13.2], [0.702, -7.5], [0.715, -4.6], [0.728, -6.3], [0.742, -7.1], [0.752, -16.2], [0.761, -10.3], [0.768, -5.9], [0.775, -14.4],
  [0.781, -16.2], [0.788, -7.9], [0.801, -9.5], [0.821, -12.0], [0.828, -13.2], [0.834, -5.5], [0.854, -6.3], [0.89, -7.3], [0.913, -8.3], [0.926, -7.5],
  [0.94, -4.6], [0.953, -7.9], [0.966, -5.9], [0.973, -2.6], [0.999, -3.8], [0.095, -1.8], [0.141, -2.8], [0.174, -2.2], [0.207, -3.2], [0.253, -2.0],
  [0.28, -3.4], [0.319, -2.6], [0.359, -3.8], [0.398, -2.2], [0.438, -3.4], [0.471, -2.6], [0.517, -4.0], [0.55, -2.2], [0.59, -3.4], [0.623, -2.4],
  [0.662, -3.8], [0.695, -2.6], [0.735, -3.4], [0.761, -4.6], [0.768, -6.3], [0.794, -3.0], [0.834, -2.2], [0.867, -3.0], [0.9, -2.2], [0.933, -2.6],
  [0.979, -1.8], [0.563, 4.1], [0.636, 3.9], [0.9, 4.1], [0.979, 1.6], [0.926, 1.6], [0.181, 3.3], [0.379, 3.3], [0.662, 3.7],
];
const heightE3Fit = [[0.0, -0.65], [0.99, -0.43]];

const panelPoints = [oorE1, areaE1, heightE1, oorE2, areaE2, heightE2, oorE3, areaE3, heightE3];
const panelDense = [[oorE1Dense], [areaE1Dense], heightE1Dense, [oorE2Dense], [areaE2Dense], heightE2Dense, [oorE3Dense], [areaE3Dense], heightE3Dense];
const panelFit = [oorE1Fit, areaE1Fit, heightE1Fit, oorE2Fit, areaE2Fit, heightE2Fit, oorE3Fit, areaE3Fit, heightE3Fit];

const LEFTS = [131, 728, 1325];
const TOPS = [148, 591, 1034];
const W = 597;
const H = 443;
const AREA_LABEL_SHIFT = 32; // the area labels sit left of their ticks in the original

const xTicks = [oorTicks, areaTicks, heightTicks];
const xFormat = [
  (v: number) => v.toFixed(1).replace(".", ","),
  (v: number) => String(v),
  (v: number) => (v === 0.3 ? "0.3." : v.toFixed(1)),
];
const yFormat = (v: number) => (v < 0 ? "–" + Math.abs(v) : String(v));

const richAxis = {
  s: { fontFamily: FONT, fontSize: 18, lineHeight: 20, verticalAlign: "bottom", color: INK },
  p: { fontFamily: FONT, fontSize: 18, lineHeight: 20, verticalAlign: "top", color: INK },
};
const richText = {
  s: { fontFamily: FONT, fontSize: 18, lineHeight: 22, verticalAlign: "bottom", fill: INK },
  p: { fontFamily: FONT, fontSize: 18, lineHeight: 22, verticalAlign: "top", fill: INK },
};

function buildOption() {
  const grid: any[] = [];
  const xAxis: any[] = [];
  const yAxis: any[] = [];
  const series: any[] = [];
  const graphic: any[] = [];
  const nameStyle = { fontFamily: FONT, fontSize: 29, color: INK, lineHeight: 34, rich: richAxis };
  const tick = (inside: boolean, values: number[]) => ({ show: true, inside, length: 5, customValues: values, lineStyle: { color: AXIS, width: 2 } });
  const line = (show: boolean) => ({ show, onZero: false, lineStyle: { color: AXIS, width: 2 } });
  const label = (show: boolean, values: number[], fmt: any, margin: number, padding?: number[], size = 29) => ({
    show, customValues: values, formatter: fmt, margin, padding,
    showMinLabel: true, showMaxLabel: true, hideOverlap: false,
    fontFamily: FONT, fontSize: size, color: INK,
  });

  for (let r = 0; r < 3; r++) {
    for (let c = 0; c < 3; c++) {
      const k = r * 3 + c;
      const g = grid.length;
      grid.push({ left: LEFTS[c], top: TOPS[r], width: W, height: H });
      const base = (gi: number, ticks: number[], range: number[]) => ({
        gridIndex: gi, type: "value", min: range[0], max: range[1],
        splitLine: { show: false }, axisLine: line(true), axisTick: tick(true, ticks),
        axisLabel: { show: false, customValues: ticks },
      });
      const areaCol = c === 1;
      const xi = xAxis.length;
      xAxis.push({
        ...base(g, xTicks[c], xRanges[c]), position: "bottom",
        axisLabel: label(r === 2 && !areaCol, xTicks[c], xFormat[c], 4),
        name: r === 2 ? bottomTitles[c] : "", nameLocation: "middle", nameGap: 58, nameTextStyle: nameStyle,
      });
      xAxis.push({
        ...base(g, xTicks[c], xRanges[c]), position: "top",
        axisLabel: label(r === 0 && !areaCol, xTicks[c], xFormat[c], 18),
        name: r === 0 ? topTitles[c] : "", nameLocation: "middle", nameGap: 94, nameTextStyle: nameStyle,
      });
      if (r === 0) xAxis.push({ ...base(g, xTicks[c], xRanges[c]), position: "top", axisLine: line(false), axisTick: tick(false, xTicks[c]) });
      if (r === 2) xAxis.push({ ...base(g, xTicks[c], xRanges[c]), position: "bottom", axisLine: line(false), axisTick: tick(false, xTicks[c]) });

      const yi = yAxis.length;
      yAxis.push({
        ...base(g, errTicks, errRange), position: "left",
        axisLabel: label(c === 0, errTicks, yFormat, 30, [0, 0, 18, 0]),
        name: c === 0 ? leftNames[r] : "", nameLocation: "middle", nameGap: 80, nameTextStyle: nameStyle,
      });
      yAxis.push({
        ...base(g, errTicks, errRange), position: "right",
        axisLabel: label(c === 2, errTicks, yFormat, 12, [0, 0, 20, 0]),
        name: c === 2 ? rightNames[r] : "", nameLocation: "middle", nameGap: 70, nameTextStyle: nameStyle,
      });
      if (c === 0) yAxis.push({ ...base(g, errTicks, errRange), position: "left", axisLine: line(false), axisTick: tick(false, errTicks) });
      if (c === 2) yAxis.push({ ...base(g, errTicks, errRange), position: "right", axisLine: line(false), axisTick: tick(false, errTicks) });

      series.push({
        type: "line", xAxisIndex: xi, yAxisIndex: yi, data: [], silent: true, z: 1,
        markLine: {
          silent: true, symbol: ["none", "none"], label: { show: false },
          lineStyle: { color: "#5a5a5a", width: 1.6, type: zeroDashed[k] ? [26, 13] : "solid" },
          data: [{ yAxis: 0 }],
        },
      });
      const polys = panelDense[k];
      series.push({
        type: "custom", xAxisIndex: xi, yAxisIndex: yi, z: 2, silent: true,
        data: polys.map((p, i) => [p[0][0], p[0][1], i]),
        renderItem: (_params: any, api: any) => {
          const poly = polys[api.value(2)];
          return {
            type: "polygon",
            shape: { points: poly.map((pt) => api.coord(pt)) },
            style: { fill: INK, stroke: INK, lineWidth: 3, lineJoin: "round" },
          };
        },
      });
      series.push({
        type: "scatter", xAxisIndex: xi, yAxisIndex: yi, z: 3, silent: true,
        symbol: "triangle", symbolSize: 7, itemStyle: { color: INK },
        data: panelPoints[k],
      });
      series.push({
        type: "line", xAxisIndex: xi, yAxisIndex: yi, z: 4, silent: true,
        symbol: "none", lineStyle: { color: INK, width: 5 },
        data: panelFit[k],
      });
      graphic.push({
        type: "text", x: LEFTS[c] + 272, y: TOPS[r] + 30, z: 10,
        style: {
          text: equations[k], fill: INK, fontFamily: FONT, fontSize: 29, lineHeight: 39,
          align: "center", textAlign: "center", verticalAlign: "top", textVerticalAlign: "top",
          rich: richText,
        },
      });

      // area tick labels: a label-only axis on a grid shifted left, as in the original
      if (areaCol && (r === 0 || r === 2)) {
        const lg = grid.length;
        grid.push({ left: LEFTS[c] - AREA_LABEL_SHIFT, top: TOPS[r], width: W, height: H });
        xAxis.push({
          gridIndex: lg, type: "value", min: xRanges[c][0], max: xRanges[c][1],
          position: r === 0 ? "top" : "bottom",
          axisLine: { show: false, onZero: false }, axisTick: { show: false }, splitLine: { show: false },
          axisLabel: label(true, areaTicks, xFormat[c], r === 0 ? 18 : 4, undefined, 26),
        });
        yAxis.push({ gridIndex: lg, type: "value", min: -25, max: 25, show: false });
      }
    }
  }
  return { animation: false, backgroundColor: "#ffffff", grid, xAxis, yAxis, series, graphic };
}

export default function App() {
  const ref = React.useRef<HTMLDivElement>(null);

  React.useEffect(() => {
    document.body.style.margin = "0";
    if (!ref.current) return;
    const chart = echarts.init(ref.current, undefined, { renderer: "svg" });
    chart.setOption(buildOption());
    return () => chart.dispose();
  }, []);

  return <div ref={ref} style={{ width: 2050, height: 1588 }} />;
}
